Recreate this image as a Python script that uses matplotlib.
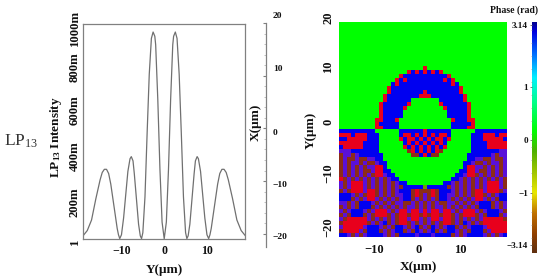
import re
import numpy as np
import matplotlib
matplotlib.use("Agg")
import matplotlib.pyplot as plt
from matplotlib.colors import ListedColormap, LinearSegmentedColormap
from matplotlib.transforms import ScaledTranslation

plt.rcParams['font.family'] = ['Liberation Serif', 'DejaVu Serif']
plt.rcParams['mathtext.fontset'] = 'custom'
plt.rcParams['mathtext.rm'] = 'Liberation Serif'
plt.rcParams['mathtext.bf'] = 'Liberation Serif:bold'
plt.rcParams['mathtext.it'] = 'Liberation Serif:italic'

W, H = 550, 279
TXT = '#111111'
GREY = '#808080'

# ---------- intensity profile (left half, mirrored: the mode is symmetric) ----------
y_um_half = [-19, -18, -17, -16, -15, -14.5, -14, -13.5, -13, -12.5, -12, -11.5, -11, -10.7, -10.4,
             -10, -9.5, -9, -8.5, -8, -7.7, -7.3, -7, -6.5, -6, -5.6, -5.3,
             -5, -4.5, -4, -3.5, -3, -2.6, -2.2, -2, -1.5, -1, -0.5, 0]
intensity_half = [.015, .04, .09, .19, .28, .315, .33, .33, .31, .26, .19, .12, .05, .02, .002,
                  .02, .10, .21, .32, .38, .39, .37, .31, .19, .07, .015, .002,
                  .03, .20, .50, .78, .95, .98, .96, .92, .66, .33, .08, .001]
intensity_ticks = [0, .2, .4, .6, .8, 1.0]
intensity_labels = ['1', '200m', '400m', '600m', '800m', '1000m']
y_um_ticks = [-10, 0, 10]

# ---------- X axis strip ----------
x_strip_values = [-20, -10, 0, 10, 20]
x_strip_labels = ['\u221220', '\u221210', '0', '10', '20']

# ---------- phase map, half rows (cols 0-21), right part mirrored ----------
# G green, B blue, R red, P purple, D brown, O olive; "12G" = twelve G cells
phase_rows = [
    "22G", "22G", "22G", "22G", "22G", "22G", "22G", "22G", "22G", "22G", "22G",
    "21GR",
    "17GRBRBR",
    "15GRBBBBBB",
    "14GRBRBBBBB",
    "13GBRBBBBBBB",
    "12GRBBBBBBBBB",
    "12GRBBBBBBBBR",
    "11GRBBBBBBBBRR",
    "11GRBBBBBB4G",
    "10GRBBBBBBR4G",
    "10GRBBBBBR5G",
    "10GRBBBBB6G",
    "10GRBBBBB6G",
    "9GRRBBBR7G",
    "9GRBBBBB7G",
    "9GRRBBBB7G",
    "BBBBBBBBB6GBBBBBBR",
    "RRRBRRRBBB5GBRRBRBR",
    "BBRRRRRBBB5GRBRRBRB",
    "RRRRRRBBBB6GBRBRBR",
    "BRRRRRBBBB6GRBRBRB",
    "PPPBBBBBBB7GDRBRB",
    "DPPDPBBBBBB7GDDBR",
    "DPDDPDDPPBB11G",
    "DPDPPDPDDPBB10G",
    "DPDPDPDPPRRB10G",
    "DPDPDPDDPRRBB9G",
    "DPDPDPDPDRRPBB8G",
    "RDPDPDPDPDPDPBB7G",
    "PDPRRRPDPDPDPDPBB5G",
    "PDPRRRPDPDPDPDPDBBBBBO",
    "DPDRRRPRRDPDPDPBBBDRDD",
    "BBBPDPDRRDPDPDPPBBDRDP",
    "BBBDPDPRRPDPDPDPBBDPDP",
    "PPDPDBBBPDPDPDPPDDPDPD",
    "DPDPDBBBDPDPDPDPDPPDPD",
    "PDPBBBPDPRRRPDPRRPRRPR",
    "DPDBBBDPDRRRDPDRRDRRDR",
    "PDRRRRRPDPDPDPDRRPRRPD",
    "DRRRRRRDPDPBDPDRRDPDPD",
    "PRRRRRPBBBPDPDBBPDPBDP",
    "DRRRRPDBBBDPDPBBDPDBPD",
    "BBPDPDPBBBBPDPDBBBBPBB",
]
phase_codes = "GBRPDO"
phase_colors = ['#00ff00', '#0000f0', '#e8001c', '#5a10d8', '#8c2c18', '#6f9a00']
phase_x_ticks = [-10, 0, 10]
phase_y_ticks = [-20, -10, 0, 10, 20]

# ---------- colour bar ----------
cbar_labels = ['3.14', '1', '0', '\u22121', '\u22123.14']
cbar_stops = [(0.00, '#000090'), (0.04, '#0000e0'), (0.14, '#0070ff'), (0.24, '#00f0ff'),
              (0.34, '#00ff90'), (0.47, '#00ff00'), (0.56, '#50b000'), (0.66, '#a8c800'),
              (0.74, '#e8e800'), (0.83, '#c07000'), (0.92, '#904000'), (1.00, '#603010')]


def axpx(fig, left, top, right, bottom):
    return fig.add_axes([left / W, 1 - bottom / H, (right - left) / W, (bottom - top) / H])


def px(x, y):
    return x / W, 1 - y / H


def nudge(fig, labels, offsets):
    for lab, (dx, dy) in zip(labels, offsets):
        lab.set_transform(lab.get_transform() + ScaledTranslation(dx / 100, -dy / 100, fig.dpi_scale_trans))


fig = plt.figure(figsize=(W / 100, H / 100), dpi=100, facecolor='white')

# LP13 row label
fx, fy = px(4, 141)
fig.text(fx, fy, r'LP$_{\mathrm{13}}$', fontsize=12.5, color='#333333', ha='left', va='center')

# ---------- left profile ----------
ax = axpx(fig, 83, 24, 245, 239)
yy = np.array(y_um_half)
ii = np.array(intensity_half)
ax.plot(np.r_[yy, -yy[-2::-1]], np.r_[ii, ii[-2::-1]], color='#707070', lw=0.9)
ax.set_xlim(-19, 18.9)
ax.set_ylim(0, 1.018)
for s in ax.spines.values():
    s.set_color(GREY)
    s.set_linewidth(0.9)
ax.set_xticks(y_um_ticks, ['\u221210', '0', '10'], fontsize=8.6, fontweight='bold', color=TXT)
ax.set_yticks(intensity_ticks, intensity_labels, fontsize=9.2, fontweight='bold', color=TXT,
              rotation=90, va='center')
ax.tick_params(length=0, pad=4.5)
ax.tick_params(axis='y', pad=1.5)
nudge(fig, ax.get_yticklabels(), [(0, 3), (0, 5), (0, 2), (0, -2), (0, -3), (0, 0)])
ax.set_xlabel('Y(\u03bcm)', fontsize=9.5, fontweight='bold', color=TXT, labelpad=5)
fx, fy = px(56, 137)
fig.text(fx, fy, r'LP$_{\mathbf{13}}$ Intensity', fontsize=9.5, fontweight='bold', color=TXT,
         rotation=90, ha='center', va='center')

# ---------- X strip ----------
st = axpx(fig, 255, 23, 266, 247)
st.patch.set_alpha(0)
for k in ('left', 'top', 'bottom'):
    st.spines[k].set_visible(False)
st.spines['right'].set_color(GREY)
st.spines['right'].set_linewidth(0.9)
st.set_xticks([])
st.set_ylim(-22.5, 20)
st.yaxis.tick_right()
st.set_yticks(x_strip_values, x_strip_labels, fontsize=6.8, fontweight='bold', color=TXT)
st.set_yticks(np.arange(-20, 21, 2.0), minor=True)
st.tick_params(axis='y', which='major', direction='in', length=2.5, color=GREY, pad=5)
st.tick_params(axis='y', which='minor', direction='in', length=1.2, color='#aaaaaa', width=0.5)
nudge(fig, st.get_yticklabels(which='major'), [(0, 2), (0, 3), (0, 4), (0, -8), (0, -8)])
fx, fy = px(256, 122)
fig.text(fx, fy, 'X(\u03bcm)', fontsize=9.5, fontweight='bold', color=TXT, rotation=90,
         ha='center', va='center')

# ---------- phase map ----------
half = []
for row in phase_rows:
    cells = re.sub(r'(\d+)([A-Z])', lambda m: m.group(2) * int(m.group(1)), row)
    half.append([phase_codes.index(c) for c in cells])
half = np.array(half)
grid = np.hstack([half, half[:, 20:0:-1]])

pm = axpx(fig, 339, 22, 507, 237)
pm.imshow(grid, cmap=ListedColormap(phase_colors), vmin=-0.5, vmax=5.5, aspect='auto',
          interpolation='nearest', extent=(-18.2, 20.4, -20, 20))
for s in pm.spines.values():
    s.set_visible(False)
pm.set_xticks(phase_x_ticks, ['\u221210', '0', '10'], fontsize=9, fontweight='bold', color=TXT)
pm.set_yticks(phase_y_ticks, ['\u221220', '\u221210', '0', '10', '20'], fontsize=9, fontweight='bold',
              color=TXT, rotation=90, va='center')
pm.tick_params(length=0, pad=5)
pm.tick_params(axis='y', pad=3.5)
nudge(fig, pm.get_yticklabels(), [(0, -10), (0, -10), (0, -8), (0, -9), (0, -4)])
nudge(fig, pm.get_xticklabels(), [(-1, 0), (0, 0), (-1, 0)])
fx, fy = px(311, 130)
fig.text(fx, fy, 'Y(\u03bcm)', fontsize=9.5, fontweight='bold', color=TXT, rotation=90,
         ha='center', va='center')
fx, fy = px(418, 267)
fig.text(fx, fy, 'X(\u03bcm)', fontsize=9.5, fontweight='bold', color=TXT, ha='center', va='center')

# ---------- colour bar ----------
cax = axpx(fig, 532, 22, 537, 253)
cmap = LinearSegmentedColormap.from_list('phase', cbar_stops, N=256)
cax.imshow(np.linspace(0, 1, 256).reshape(-1, 1), cmap=cmap, aspect='auto', extent=(0, 1, 253, 22))
cax.set_ylim(253, 22)
cax.set_xticks([])
for s in cax.spines.values():
    s.set_visible(False)
cax.set_yticks([25, 87, 140, 193, 245], cbar_labels, fontsize=6.6, fontweight='bold', color=TXT)
cax.set_yticks(np.arange(30, 250, 13.0), minor=True)
cax.tick_params(axis='y', which='major', length=1.8, width=0.6, color='#666666', pad=1)
cax.tick_params(axis='y', which='minor', length=1.0, width=0.4, color='#888888')
fx, fy = px(514, 10)
fig.text(fx, fy, 'Phase (rad)', fontsize=7, fontweight='bold', color=TXT, ha='center', va='center')

fig.savefig('out.png', dpi=100)
